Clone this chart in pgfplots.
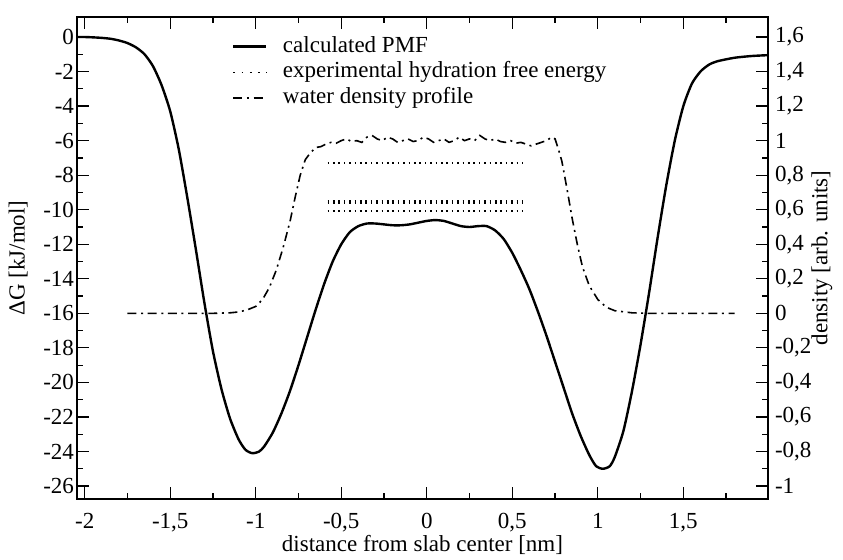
\documentclass[border=0pt]{standalone}
\usepackage{fontspec}
\setmainfont{Liberation Serif}
\usepackage{pgfplots}
\pgfplotsset{compat=1.18}

\pgfplotsset{
  twin/.style={
    scale only axis, width=345.5pt, height=241pt,
    at={(0pt,0pt)}, anchor=south west,
    xmin=-2.045, xmax=1.995,
    tick align=inside,
    major tick length=6pt, minor tick length=3pt,
    every tick/.style={black, line width=0.6pt},
    axis line style={line width=0.8pt},
    /pgf/number format/use comma,
    /pgf/number format/assume math mode=true,
  },
}

\begin{document}
\begin{tikzpicture}[font=\fontsize{11.5}{13.8}\selectfont]
\useasboundingbox (-38.5pt,-30.5pt) rectangle (383pt,249.5pt);

% left axis: PMF in kJ/mol
\begin{axis}[twin,
  ymin=-26.75, ymax=1.16,
  xtick={-2,-1.5,-1,-0.5,0,0.5,1,1.5},
  minor xtick={-1.75,-1.25,-0.75,-0.25,0.25,0.75,1.25,1.75},
  ytick={-26,-24,-22,-20,-18,-16,-14,-12,-10,-8,-6,-4,-2,0},
  minor ytick={-25,-23,-21,-19,-17,-15,-13,-11,-9,-7,-5,-3,-1},
  ytick pos=left,
  xticklabel style={yshift=-3.5pt},
  yticklabel style={xshift=2pt},
  xlabel={distance from slab center [nm]},
  ylabel={ΔG [kJ/mol]},
  every axis x label/.style={at={(axis description cs:0.5,-0.095)}, anchor=center},
  every axis y label/.style={at={(axis description cs:-0.085,0.5)}, rotate=90, anchor=center},
]
\addplot[black, line width=1.2pt, smooth, tension=0.4] coordinates {
  (-2.045,0.0) (-2.0,0.0) (-1.95,-0.02) (-1.9,-0.05) (-1.85,-0.1) (-1.8,-0.2)
  (-1.75,-0.35) (-1.7,-0.6) (-1.65,-1.0) (-1.6,-1.7) (-1.55,-2.8) (-1.5,-4.3)
  (-1.45,-6.5) (-1.4,-9.3) (-1.35,-12.3) (-1.3,-15.4) (-1.25,-18.2) (-1.2,-20.4)
  (-1.15,-22.1) (-1.1,-23.3) (-1.06,-23.9) (-1.02,-24.1) (-0.98,-24.0) (-0.95,-23.7)
  (-0.9,-22.9) (-0.85,-21.8) (-0.8,-20.5) (-0.75,-19.0) (-0.7,-17.4) (-0.65,-15.8)
  (-0.6,-14.3) (-0.55,-13.0) (-0.5,-12.0) (-0.45,-11.3) (-0.4,-10.95) (-0.35,-10.8)
  (-0.3,-10.8) (-0.25,-10.85) (-0.2,-10.9) (-0.15,-10.9) (-0.1,-10.85) (-0.05,-10.75)
  (0.0,-10.65) (0.05,-10.6) (0.1,-10.65) (0.15,-10.8) (0.2,-10.95) (0.25,-11.0)
  (0.3,-10.95) (0.35,-10.95) (0.4,-11.2) (0.45,-11.7) (0.5,-12.5) (0.55,-13.5)
  (0.6,-14.6) (0.65,-15.9) (0.7,-17.3) (0.75,-18.8) (0.8,-20.3) (0.85,-21.8)
  (0.9,-23.1) (0.95,-24.2) (0.99,-24.85) (1.03,-25.0) (1.07,-24.85) (1.1,-24.3)
  (1.15,-22.8) (1.2,-20.5) (1.25,-17.8) (1.3,-14.8) (1.35,-11.6) (1.4,-8.6)
  (1.45,-6.0) (1.5,-4.0) (1.55,-2.7) (1.6,-2.0) (1.65,-1.6) (1.7,-1.4)
  (1.8,-1.2) (1.9,-1.1) (1.995,-1.05)
};
% experimental hydration free energies
\addplot[black, line width=0.8pt, dash pattern=on 0.8pt off 1.9pt] coordinates {(-0.58,-7.3) (0.56,-7.3)};
\addplot[black, line width=0.8pt, dash pattern=on 0.8pt off 1.9pt] coordinates {(-0.58,-9.48) (0.56,-9.48)};
\addplot[black, line width=0.8pt, dash pattern=on 0.8pt off 1.9pt] coordinates {(-0.58,-9.62) (0.56,-9.62)};
\addplot[black, line width=0.8pt, dash pattern=on 0.8pt off 1.9pt] coordinates {(-0.58,-10.07) (0.56,-10.07)};
\end{axis}

% right axis: water density
\begin{axis}[twin,
  ymin=-1.075, ymax=1.716,
  axis x line=none,
  axis y line*=right,
  ytick={-1,-0.8,-0.6,-0.4,-0.2,0,0.2,0.4,0.6,0.8,1,1.2,1.4,1.6},
  minor ytick={-0.9,-0.7,-0.5,-0.3,-0.1,0.1,0.3,0.5,0.7,0.9,1.1,1.3,1.5},
  yticklabel style={/pgf/number format/fixed, /pgf/number format/precision=1},
  ylabel={density [arb. units]},
  every axis y label/.style={at={(axis description cs:1.078,0.5)}, rotate=90, anchor=center},
  legend style={draw=none, fill=none, at={(0.224,0.966)}, anchor=north west,
    inner sep=0pt, row sep=0pt,
    nodes={inner sep=1.2pt, text height=8pt, text depth=2.5pt}},
  legend cell align=left,
  legend image code/.code={\draw[#1] (0pt,0pt) -- (16.5pt,0pt); \path (23pt,0pt);},
]
\addlegendimage{black, line width=1.2pt}
\addlegendentry{calculated PMF}
\addlegendimage{black, line width=0.9pt, dash pattern=on 0.9pt off 3.2pt}
\addlegendentry{experimental hydration free energy}
\addplot[black, line width=0.8pt, dash pattern=on 4.5pt off 2.3pt on 1pt off 2.3pt] coordinates {
  (-1.75,0) (-1.5,0) (-1.25,0) (-1.15,0.003) (-1.1,0.008) (-1.05,0.02)
  (-1.0,0.04) (-0.96,0.08) (-0.92,0.15) (-0.88,0.25) (-0.84,0.38) (-0.8,0.53)
  (-0.77,0.67) (-0.74,0.8) (-0.71,0.89) (-0.68,0.93) (-0.65,0.96) (-0.62,0.965)
  (-0.59,0.98) (-0.56,0.99) (-0.53,0.985) (-0.5,1.0) (-0.47,1.01) (-0.44,0.995)
  (-0.41,1.0) (-0.38,0.99) (-0.35,1.02) (-0.32,1.03) (-0.29,1.01) (-0.26,1.0)
  (-0.23,1.02) (-0.2,1.01) (-0.17,0.99) (-0.14,1.0) (-0.11,1.01) (-0.08,0.995)
  (-0.05,1.0) (-0.02,1.02) (0.01,1.01) (0.04,0.99) (0.07,1.0) (0.1,1.01)
  (0.13,0.99) (0.16,1.0) (0.19,1.02) (0.22,1.0) (0.25,1.01) (0.28,1.0)
  (0.31,1.03) (0.34,1.01) (0.37,1.0) (0.4,1.01) (0.43,0.995) (0.46,0.99)
  (0.49,1.0) (0.52,0.985) (0.55,0.99) (0.58,0.98) (0.61,0.97) (0.64,0.98)
  (0.67,0.99) (0.7,1.0) (0.73,1.02) (0.75,1.01) (0.77,0.95) (0.79,0.88)
  (0.82,0.72) (0.85,0.55) (0.88,0.4) (0.91,0.27) (0.95,0.16) (1.0,0.08)
  (1.05,0.035) (1.1,0.015) (1.2,0.003) (1.3,0) (1.5,0) (1.8,0)
};
\addlegendentry{water density profile}
\end{axis}
\end{tikzpicture}
\end{document}
